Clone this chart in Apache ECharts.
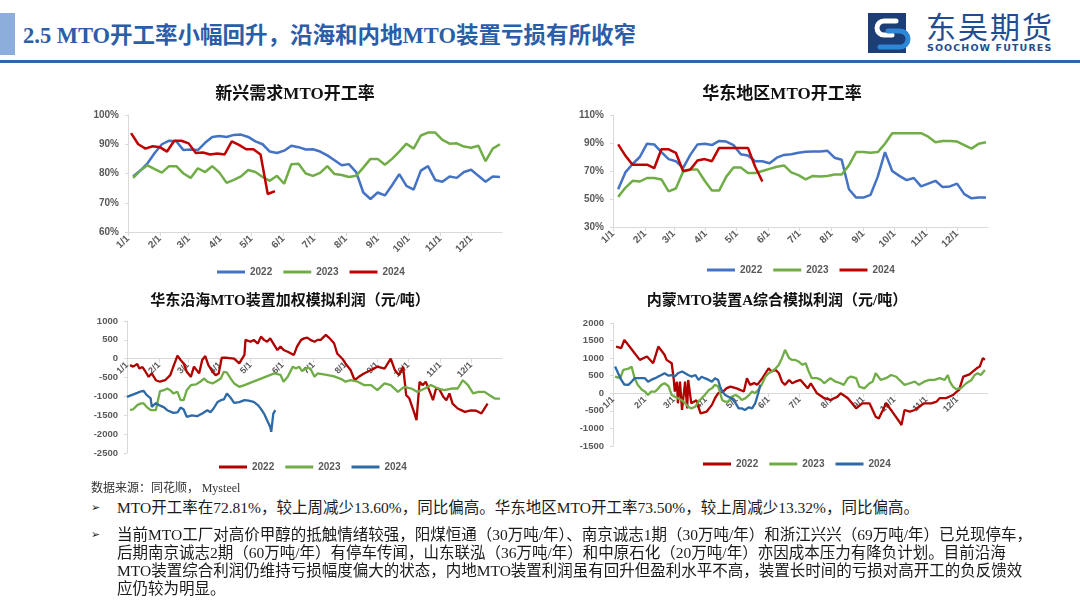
<!DOCTYPE html>
<html>
<head>
<meta charset="utf-8">
<script src="https://cdn.jsdelivr.net/npm/echarts@6/dist/echarts.min.js"></script>
<style>
  html, body { margin: 0; padding: 0; background: #fff; }
  body { width: 1080px; height: 608px; position: relative; overflow: hidden; }
  .abs { position: absolute; }
  .chart { position: absolute; width: 450px; height: 205px; }
  .ptxt { position: absolute; left: 117px; font-family: 'Liberation Serif', 'Noto Sans CJK SC', serif; font-size: 15.5px; line-height: 18px; color: #1a1a1a; white-space: nowrap; }
  .bul { position: absolute; left: 91px; font-family: 'DejaVu Sans', sans-serif; font-size: 11px; line-height: 18px; color: #1a1a1a; }
</style>
</head>
<body>
<!-- header -->
<div class="abs" style="left:0;top:13px;width:15px;height:42px;background:#8DAEDC;"></div>
<div class="abs" style="left:23px;top:21px;font:bold 22.5px 'Liberation Serif','Noto Sans CJK SC',serif;line-height:30px;color:#2B5DA8;white-space:nowrap;">2.5 MTO开工率小幅回升，沿海和内地MTO装置亏损有所收窄</div>
<div class="abs" style="left:0;top:60px;width:1080px;height:3px;background:#3263AE;"></div>
<svg class="abs" style="left:866px;top:12px" width="56" height="42" viewBox="0 0 56 42">
  <rect x="2" y="1" width="38" height="40" fill="#1C3D75"/>
  <path d="M30 9 L18 9 A7 7 0 0 0 18 23 L26 23" fill="none" stroke="#ffffff" stroke-width="5" stroke-linecap="round"/>
  <path d="M22 19 L34 19 A8 8 0 0 1 34 35 L14 35" fill="none" stroke="#2E86D6" stroke-width="5" stroke-linecap="round"/>
</svg>
<div class="abs" style="left:926px;top:8px;font:400 30px 'Noto Sans CJK SC',sans-serif;line-height:34px;color:#1F4E90;letter-spacing:2px;white-space:nowrap;">东吴期货</div>
<div class="abs" style="left:927px;top:42px;font:bold 9.5px 'DejaVu Sans',sans-serif;line-height:12px;color:#1F4E90;letter-spacing:1.1px;white-space:nowrap;">SOOCHOW FUTURES</div>

<!-- charts -->
<div id="c1" class="chart" style="left:70px;top:80px;"></div>
<div id="c2" class="chart" style="left:557px;top:80px;"></div>
<div id="c3" class="chart" style="left:65px;top:285px;"></div>
<div id="c4" class="chart" style="left:552px;top:285px;"></div>

<div class="abs" style="left:91px;top:479px;font:12px 'Noto Sans CJK SC','Liberation Serif',sans-serif;line-height:16px;color:#333;white-space:nowrap;">数据来源：同花顺， <span style="font-family:'Liberation Serif',serif;">Mysteel</span></div>

<!-- text -->
<div class="bul" style="top:499px;">➢</div>
<div class="ptxt" style="top:499px;">MTO开工率在72.81%，较上周减少13.60%，同比偏高。华东地区MTO开工率73.50%，较上周减少13.32%，同比偏高。</div>
<div class="bul" style="top:526px;">➢</div>
<div class="ptxt" style="top:526px;">当前MTO工厂对高价甲醇的抵触情绪较强，阳煤恒通（30万吨/年）、南京诚志1期（30万吨/年）和浙江兴兴（69万吨/年）已兑现停车，<br>后期南京诚志2期（60万吨/年）有停车传闻，山东联泓（36万吨/年）和中原石化（20万吨/年）亦因成本压力有降负计划。目前沿海<br>MTO装置综合利润仍维持亏损幅度偏大的状态，内地MTO装置利润虽有回升但盈利水平不高，装置长时间的亏损对高开工的负反馈效<br>应仍较为明显。</div>

<script>
// ---------- axis categories (day of year, M/D) ----------
const monthLengths = [31, 28, 31, 30, 31, 30, 31, 31, 30, 31, 30, 31];
const dayLabels = [];
monthLengths.forEach((n, m) => { for (let d = 1; d <= n; d++) dayLabels.push((m + 1) + '/' + d); });

// ---------- chart 1: 新兴需求MTO开工率 (weekly, %) ----------
const xinxingStart2022 = 5, xinxingStart2023 = 5, xinxingStart2024 = 3; // day-of-year of first weekly reading
const xinxing2022 = [79,81,83.5,87,90,91.2,91,88,88.2,88,90.5,92.5,92.8,92.5,93.2,93.3,92.5,91,90,87.5,87,87.8,89.5,89,88.2,88.3,87.5,86.2,84.5,82.8,83.2,80.5,73.5,71.3,73.5,72.5,76,79.8,75.8,74.5,81,82.5,77.8,77.2,79,78.5,80.5,81.3,79.2,77.2,79,78.8];
const xinxing2023 = [78.5,81,82.8,81.5,80.3,82.5,82.5,80,78.5,81.8,80.5,82.5,80.3,76.8,77.8,79,81.2,80.5,78.8,77.5,79.2,76.5,83.2,83.3,80,79.2,80.2,82.5,79.8,79.5,78.8,79.2,82,85,85,83,85,87.5,90.2,88.5,93,94,94,91.5,90.2,90.3,89.2,88.8,89.5,84.2,88.5,90];
const xinxing2024 = [93.8,90,88.5,89.3,89,87.5,91.2,91.2,90.3,87,87.2,86.5,86.8,86.5,91,89.8,88.3,88.3,86.5,73,74];

// ---------- chart 2: 华东地区MTO开工率 (weekly, %) ----------
const huadongStart2022 = 5, huadongStart2023 = 5, huadongStart2024 = 5;
const huadong2022 = [57,69,75,80,89.5,89,83.5,78.5,77,72,81.5,89,89.5,88.5,91.5,91,88.5,82,81,77,77,75.5,79.5,81.5,82,83,83.8,84,84,84.5,79.5,78,57,51,51,53,66,83.5,70,66.5,63.5,65,59,61,63,58.5,59,61,53.5,50.5,51,51];
const huadong2023 = [51.5,58,63,62.5,65,65,64,55.5,57.5,69.5,71,71,63,56,56,66,72.5,72.5,68.5,68.5,70,71.5,73,74,69,67,64,66.5,66,66.5,67.5,67.5,74,83.5,83.5,83,83.5,89.5,97,97,97,97,97,94.5,90.5,91.5,91.5,91,88.5,86,89.5,90.5];
const huadong2024 = [89,81,74.5,74.5,74.5,72,85.5,85.5,83,70,71,77.5,78.5,77,86.5,86.5,86.5,86.5,86.5,73,62.5];

// ---------- chart 3: 华东沿海MTO装置加权模拟利润 (元/吨) ----------
const coastalDays2022 = [3,6,10,12,15,18,21,24,28,32,37,42,45,49,52,55,58,62,65,70,73,76,79,83,86,89,92,97,104,109,114,115,120,123,127,130,133,136,139,143,146,149,152,156,162,165,169,172,175,178,182,185,188,193,196,201,204,209,212,217,221,225,230,237,243,250,256,260,264,268,271,274,279,281,284,287,290,294,297,300,303,307,310,313,316,321,328,334,339,344,350];
const coastal2022 = [-170,-210,-140,-260,-220,-345,-480,-390,-570,-610,-570,-435,-210,80,-35,-125,-345,-480,-210,-390,-35,70,-170,-345,-435,-390,25,25,0,-125,100,500,450,500,400,585,500,450,540,360,230,320,230,185,100,320,500,540,560,500,450,500,500,630,560,410,140,0,-125,-300,-570,-480,-390,-300,-210,-260,0,-300,-435,-210,-965,-1050,-1450,-1630,-610,-700,-610,-880,-1100,-790,-800,-1010,-1100,-920,-1190,-1320,-1410,-1370,-1380,-1450,-1190];
const coastalDays2023 = [3,6,10,13,16,19,23,28,29,32,36,39,42,45,49,52,55,58,62,67,71,75,78,83,86,91,94,97,101,104,109,114,143,149,152,156,161,164,167,170,175,178,182,185,188,195,201,208,212,217,224,230,237,243,250,256,263,269,276,282,289,295,302,308,315,321,326,331,336,341,347,352,357,362];
const coastal2023 = [-1365,-1340,-1230,-1190,-1180,-1275,-1365,-1365,-1320,-860,-835,-790,-835,-920,-880,-1100,-1100,-835,-700,-680,-610,-525,-610,-655,-610,-525,-345,-370,-540,-655,-745,-700,-390,-430,-610,-480,-210,-260,-210,-330,-240,-260,-480,-390,-400,-435,-470,-540,-610,-570,-610,-700,-700,-835,-655,-700,-880,-745,-790,-880,-790,-700,-790,-835,-790,-790,-570,-700,-920,-880,-880,-970,-1055,-1060];
const coastalDays2024 = [0,5,10,13,16,19,23,24,28,31,36,39,45,49,52,55,58,63,68,73,78,81,84,88,91,94,97,101,104,109,114,118,123,127,130,133,136,139,140,142,144];
const coastal2024 = [-1010,-960,-905,-870,-850,-960,-1050,-1275,-1180,-1230,-1290,-1365,-1435,-1420,-1295,-1345,-1540,-1500,-1525,-1450,-1365,-1420,-1320,-1145,-1100,-1080,-920,-1050,-1170,-1150,-1100,-1110,-1145,-1230,-1330,-1455,-1630,-1810,-1940,-1455,-1365];

// ---------- chart 4: 内蒙MTO装置A综合模拟利润 (元/吨) ----------
const innerDays2022 = [3,8,11,16,21,26,33,39,41,44,50,52,57,59,60,62,63,65,67,70,72,73,76,81,85,86,91,96,99,102,107,110,114,120,127,130,133,137,140,145,148,151,154,158,161,164,167,171,174,177,182,189,192,198,205,211,218,221,228,232,236,242,249,252,255,258,262,265,271,278,280,283,288,293,297,302,309,314,317,323,330,333,336,340,346,353,356,359,361];
const inner2022 = [1330,1285,1520,1330,1140,950,1045,855,1045,1330,1095,950,855,380,50,330,-285,330,-475,330,-430,380,-285,-200,-570,-620,-520,-330,-140,0,50,140,190,140,50,430,240,290,240,430,570,710,620,665,570,330,240,380,285,330,380,140,285,0,-140,-190,-95,0,-140,-285,-430,-285,-285,-475,-665,-715,-475,-285,-520,-810,-905,-475,-520,-475,-380,-285,-285,-240,-140,-140,-50,30,95,475,540,710,760,1000,950];
const innerDays2023 = [2,7,10,15,18,21,24,28,31,34,37,41,44,47,50,54,57,60,63,67,70,73,76,80,83,86,89,93,96,99,102,104,106,109,112,115,119,122,125,128,132,135,138,141,145,148,151,154,158,161,164,167,171,174,177,180,184,187,190,193,198,202,205,211,216,221,224,228,231,236,239,244,249,252,255,260,265,270,275,278,283,288,293,297,302,307,312,317,322,325,327,330,333,338,343,348,351,354,357,361];
const inner2023 = [475,430,665,700,760,430,240,100,50,-50,50,50,140,240,285,200,-50,-100,-140,-200,-285,-380,-430,-380,-240,-140,-50,90,140,240,200,0,-190,-240,-240,-100,-50,-100,-190,-150,-50,50,0,100,285,475,570,620,710,810,1000,1235,1000,950,950,905,810,855,620,430,430,380,285,430,330,285,240,430,475,430,190,140,285,330,570,380,430,520,470,380,240,285,330,240,330,380,380,430,380,520,330,190,120,150,285,380,520,570,520,665];
const innerDays2024 = [2,3,5,8,11,15,18,21,26,31,34,37,41,44,47,50,54,57,60,63,67,70,73,76,80,83,86,89,93,96,99,102,104,106,109,112,115,119,122,125,128,132,135,138,141,143];
const inner2024 = [760,700,570,380,250,240,330,430,430,430,330,380,430,475,520,570,500,520,475,570,620,570,520,475,520,380,470,430,380,330,430,380,190,50,-50,-100,-140,-280,-430,-430,-475,-400,-430,-285,0,240];

// ---------- tick labels ----------
const rateTicks2 = [30, 50, 70, 90, 110];

// ---------- helpers ----------
const weekly = (startDay, values) => values.map((v, i) => [startDay + 7 * i, v]);
const paired = (days, values) => days.map((d, i) => [d, values[i]]);
const isMonthStart = (i, v) => String(v).split('/')[1] === '1';
const TITLE_FONT = "'Liberation Serif', 'Noto Sans CJK SC', serif";
const AXIS_FONT = "'Liberation Sans', 'Noto Sans', sans-serif";
const AXIS_GREY = '#595959';
const LINE_GREY = '#d9d9d9';
const CHART_H = 205;

function build(cfg) {
  // x axis sits on the zero line of the y axis when the range crosses zero
  let xOffset = 0;
  const ymin = cfg.yAxis.min, ymax = cfg.yAxis.max;
  if (ymin < 0 && ymax > 0) {
    const gridH = CHART_H - cfg.grid.top - cfg.grid.bottom;
    xOffset = -gridH * (0 - ymin) / (ymax - ymin);
  }
  return {
    animation: false,
    title: {
      text: cfg.title, left: 'center', top: cfg.titleTop, padding: 5,
      textStyle: { fontFamily: TITLE_FONT, fontWeight: 'bold', fontSize: cfg.titleSize, color: '#111' }
    },
    legend: {
      left: cfg.legendLeft, top: cfg.legendTop, orient: 'horizontal',
      icon: 'rect', itemWidth: 28, itemHeight: 3, itemGap: 11,
      selectedMode: false,
      textStyle: { fontFamily: AXIS_FONT, fontWeight: 'bold', fontSize: 10, color: AXIS_GREY },
      data: cfg.series.map(s => s.name)
    },
    grid: Object.assign({ containLabel: false, outerBoundsMode: 'none' }, cfg.grid),
    xAxis: {
      type: 'category', data: dayLabels, boundaryGap: false,
      position: 'bottom', offset: xOffset,
      axisLine: { show: true, onZero: false, lineStyle: { color: LINE_GREY, width: 1 } },
      axisTick: { show: true, interval: isMonthStart, length: 4, lineStyle: { color: LINE_GREY } },
      axisLabel: { interval: isMonthStart, rotate: 45, margin: 5, hideOverlap: false,
        fontFamily: AXIS_FONT, fontWeight: 'bold', fontSize: cfg.labelSize, color: AXIS_GREY },
      splitLine: { show: false }
    },
    yAxis: Object.assign({
      type: 'value',
      axisLine: { show: true, lineStyle: { color: LINE_GREY, width: 1 } },
      splitLine: { show: false }
    }, cfg.yAxis),
    series: cfg.series.map(s => ({
      type: 'line', name: s.name, data: s.data,
      showSymbol: false, symbol: 'none', smooth: false,
      lineStyle: { color: s.color, width: cfg.lineWidth },
      itemStyle: { color: s.color },
      emphasis: { disabled: true }
    }))
  };
}

const yLabel = (size, fmt) => ({ fontFamily: AXIS_FONT, fontWeight: 'bold', fontSize: size, color: AXIS_GREY, margin: 9, formatter: fmt });
const plain = v => String(v);
const yTick = { show: true, length: 3, lineStyle: { color: LINE_GREY } };

const BLUE = '#4472C4', GREEN = '#70AD47', RED = '#C00000', DBLUE = '#2E6AA6', DRED = '#B00000';

const charts = [
  ['c1', build({
    title: '新兴需求MTO开工率', titleTop: 1, titleSize: 17,
    legendLeft: 142, legendTop: 182, labelSize: 10, lineWidth: 2.5,
    grid: { left: 58, right: 18, top: 35, bottom: 53 },
    yAxis: { min: 60, max: 100, interval: 10, axisTick: yTick, axisLabel: yLabel(10, '{value}%') },
    series: [
      { name: '2022', color: BLUE, data: weekly(xinxingStart2022, xinxing2022) },
      { name: '2023', color: GREEN, data: weekly(xinxingStart2023, xinxing2023) },
      { name: '2024', color: RED, data: weekly(xinxingStart2024, xinxing2024) }
    ]
  })],
  ['c2', build({
    title: '华东地区MTO开工率', titleTop: 1, titleSize: 17,
    legendLeft: 145, legendTop: 180, labelSize: 10, lineWidth: 2.5,
    grid: { left: 56, right: 19, top: 35, bottom: 58 },
    yAxis: { min: 30, max: 110,
      axisTick: Object.assign({ customValues: rateTicks2 }, yTick),
      axisLabel: Object.assign({ customValues: rateTicks2 }, yLabel(10, '{value}%')) },
    series: [
      { name: '2022', color: BLUE, data: weekly(huadongStart2022, huadong2022) },
      { name: '2023', color: GREEN, data: weekly(huadongStart2023, huadong2023) },
      { name: '2024', color: RED, data: weekly(huadongStart2024, huadong2024) }
    ]
  })],
  ['c3', build({
    title: '华东沿海MTO装置加权模拟利润（元/吨）', titleTop: 4, titleSize: 15,
    legendLeft: 149, legendTop: 172, labelSize: 9, lineWidth: 2.3,
    grid: { left: 62, right: 13, top: 36, bottom: 37 },
    yAxis: { min: -2500, max: 1000, interval: 500, axisTick: yTick, axisLabel: yLabel(9.5, plain) },
    series: [
      { name: '2022', color: DRED, data: paired(coastalDays2022, coastal2022) },
      { name: '2023', color: GREEN, data: paired(coastalDays2023, coastal2023) },
      { name: '2024', color: DBLUE, data: paired(coastalDays2024, coastal2024) }
    ]
  })],
  ['c4', build({
    title: '内蒙MTO装置A综合模拟利润（元/吨）', titleTop: 4, titleSize: 15,
    legendLeft: 146, legendTop: 169, labelSize: 9, lineWidth: 2.3,
    grid: { left: 61, right: 14, top: 38, bottom: 44 },
    yAxis: { min: -1500, max: 2000, interval: 500, axisTick: yTick, axisLabel: yLabel(9.5, plain) },
    series: [
      { name: '2022', color: DRED, data: paired(innerDays2022, inner2022) },
      { name: '2023', color: GREEN, data: paired(innerDays2023, inner2023) },
      { name: '2024', color: DBLUE, data: paired(innerDays2024, inner2024) }
    ]
  })]
];

charts.forEach(([id, opt]) => {
  const c = echarts.init(document.getElementById(id), null, { renderer: 'canvas' });
  c.setOption(opt);
});
</script>
</body>
</html>
